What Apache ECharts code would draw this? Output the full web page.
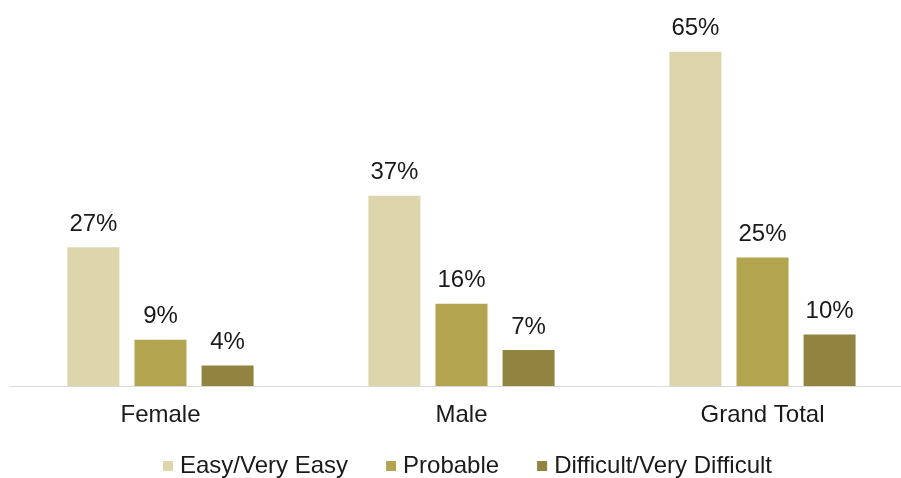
<!DOCTYPE html>
<html><head><meta charset="utf-8">
<script src="https://cdn.jsdelivr.net/npm/echarts@6/dist/echarts.min.js"></script>
<style>html,body{margin:0;padding:0;background:#fff;overflow:hidden}#c{width:913px;height:478px}</style>
</head><body><div id="c"></div>
<script>
const categories = ['Female', 'Male', 'Grand Total'];
const seriesNames = ['Easy/Very Easy', 'Probable', 'Difficult/Very Difficult'];
const easyValues = [27, 37, 65];
const probableValues = [9, 16, 25];
const difficultValues = [4, 7, 10];
const colors = ['#DDD6AC', '#B3A550', '#918340'];

const chart = echarts.init(document.getElementById('c'), null, {renderer: 'canvas'});
const font = 'Liberation Sans, Arial, sans-serif';
function mk(name, data, color) {
  return {
    name: name, type: 'bar', data: data,
    barWidth: 52, barGap: '29%',
    itemStyle: {color: color},
    label: {show: true, position: 'top', distance: 11, formatter: '{c}%',
      color: '#1a1a1a', fontSize: 24, fontFamily: font},
    emphasis: {disabled: true}
  };
}
chart.setOption({
  animation: false,
  color: colors,
  grid: {left: 10, right: 0, top: 26, bottom: 92, containLabel: false},
  legend: {
    top: 454, left: 163, padding: 0, itemWidth: 10, itemHeight: 10, itemGap: 38,
    icon: 'rect',
    textStyle: {fontSize: 24, fontFamily: font, color: '#1a1a1a', padding: [0,0,0,2]},
    data: seriesNames
  },
  xAxis: {
    type: 'category', data: categories,
    axisLine: {lineStyle: {color: '#d9d9d9', width: 1}},
    axisTick: {show: false},
    axisLabel: {fontSize: 24, fontFamily: font, color: '#1a1a1a', margin: 17}
  },
  yAxis: {type: 'value', min: 0, max: 70, show: false, splitLine: {show: false}},
  series: [
    mk(seriesNames[0], easyValues, colors[0]),
    mk(seriesNames[1], probableValues, colors[1]),
    mk(seriesNames[2], difficultValues, colors[2])
  ]
});
</script></body></html>
